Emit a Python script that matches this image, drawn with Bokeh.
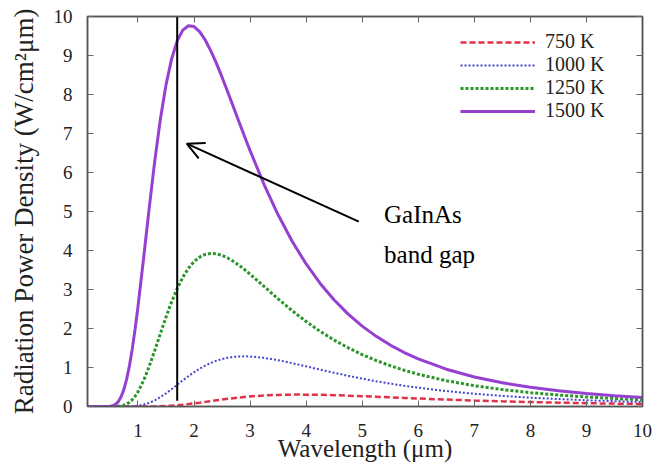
from bokeh.plotting import figure
from bokeh.models import (Range1d, LinearAxis, FixedTicker, Arrow, OpenHead, Legend, LegendItem,
                          ColumnDataSource, CustomJSTickFormatter)
from bokeh.core.properties import value
from bokeh.embed import file_html
from bokeh.resources import INLINE

# ---- data ----
wavelength = [0.1, 0.3, 0.5, 0.55, 0.6, 0.65, 0.7, 0.75, 0.8, 0.85, 0.9, 0.95, 1.0, 1.1, 1.2,
              1.3, 1.4, 1.5, 1.6, 1.7, 1.8, 1.9, 2.0, 2.1, 2.2, 2.3, 2.4, 2.5, 2.6, 2.7, 2.8,
              2.9, 3.0, 3.25, 3.5, 3.75, 4.0, 4.25, 4.5, 4.75, 5.0, 5.25, 5.5, 5.75, 6.0, 6.5,
              7.0, 7.5, 8.0, 8.5, 9.0, 9.5, 10.0]
t750 = [0, 0, 0, 0, 0, 0, 0, 0, 0, 0, 0, 0.0001, 0.0002, 0.0006, 0.0017, 0.0039, 0.0078,
        0.0137, 0.0222, 0.0331, 0.0466, 0.0623, 0.0798, 0.0988, 0.1186, 0.1387, 0.1588,
        0.1782, 0.1968, 0.2142, 0.2303, 0.2448, 0.2576, 0.2827, 0.2980, 0.3047, 0.3044,
        0.2989, 0.2896, 0.2775, 0.2639, 0.2493, 0.2344, 0.2195, 0.2051, 0.1778, 0.1536,
        0.1324, 0.1142, 0.0986, 0.0853, 0.0740, 0.0644]
t1000 = [0, 0, 0, 0, 0.00002, 0.0001, 0.0003, 0.0007, 0.0018, 0.0038, 0.0072, 0.0128,
         0.0211, 0.0485, 0.0933, 0.1573, 0.2394, 0.3364, 0.4438, 0.5562, 0.669, 0.7777,
         0.8789, 0.9704, 1.0503, 1.118, 1.1736, 1.2171, 1.2492, 1.2707, 1.2829, 1.2866,
         1.2829, 1.2482, 1.1874, 1.1119, 1.0296, 0.9459, 0.8641, 0.7863, 0.7139, 0.6472,
         0.5863, 0.531, 0.4812, 0.3958, 0.3269, 0.2714, 0.2265, 0.1902, 0.1606, 0.1363, 0.1164]
t1250 = [0, 0, 0.0001, 0.0006, 0.0022, 0.0066, 0.0161, 0.0341, 0.0644, 0.1109, 0.1767,
         0.2646, 0.3753, 0.6633, 1.0268, 1.4388, 1.8704, 2.292, 2.682, 3.026, 3.314, 3.543,
         3.714, 3.832, 3.900, 3.926, 3.915, 3.874, 3.809, 3.724, 3.624, 3.513, 3.393, 3.078,
         2.760, 2.458, 2.179, 1.927, 1.703, 1.505, 1.331, 1.179, 1.046, 0.930, 0.828, 0.661,
         0.533, 0.433, 0.355, 0.294, 0.244, 0.205, 0.173]
t1500 = [0, 0, 0.006, 0.0198, 0.055, 0.1258, 0.249, 0.4397, 0.709, 1.0592, 1.490, 1.9925,
         2.555, 3.795, 5.080, 6.297, 7.369, 8.245, 8.912, 9.375, 9.650, 9.764, 9.742, 9.613,
         9.398, 9.120, 8.797, 8.444, 8.072, 7.692, 7.310, 6.931, 6.562, 5.691, 4.915, 4.237,
         3.654, 3.155, 2.730, 2.368, 2.061, 1.799, 1.575, 1.384, 1.219, 0.956, 0.758, 0.608,
         0.493, 0.403, 0.333, 0.277, 0.233]
series_labels = ["750 K", "1000 K", "1250 K", "1500 K"]
x_ticks = [1, 2, 3, 4, 5, 6, 7, 8, 9, 10]
y_ticks = [0, 1, 2, 3, 4, 5, 6, 7, 8, 9, 10]

bandgap_x = [1.7]
bandgap_y0 = [0.15]
bandgap_y1 = [10]
arrow_start = (4.94, 4.74)
arrow_end = (1.87, 6.74)
note_x = [5.39, 5.39]
note_y = [4.92, 3.90]
note_text = ["GaInAs", "band gap"]

SERIF = "'Liberation Serif'"

p = figure(width=656, height=469, output_backend="svg", toolbar_location=None,
           x_range=Range1d(0.1, 10), y_range=Range1d(0, 10),
           min_border_left=87, min_border_right=14, min_border_top=16, min_border_bottom=63)
p.xgrid.visible = False
p.ygrid.visible = False
p.outline_line_color = "#555555"
p.outline_line_width = 1.5
p.background_fill_color = "white"

def style_axis(ax, ticks, labels=True):
    ax.ticker = FixedTicker(ticks=ticks)
    ax.major_tick_in = 6
    ax.major_tick_out = 0
    ax.minor_tick_line_color = None
    ax.major_tick_line_color = "#666666"
    ax.axis_line_color = "#555555"
    ax.axis_line_width = 1.5
    if labels:
        ax.major_label_text_font = SERIF
        ax.major_label_text_font_size = "19px"
        ax.major_label_text_color = "#222222"
        ax.axis_label_text_font = SERIF
        ax.axis_label_text_font_style = "normal"
        ax.axis_label_text_color = "#222222"
    else:
        ax.formatter = CustomJSTickFormatter(code="return ''")
        ax.major_label_standoff = 0

style_axis(p.xaxis[0], x_ticks)
style_axis(p.yaxis[0], y_ticks)
p.xaxis[0].axis_label = "Wavelength (μm)"
p.yaxis[0].axis_label = "Radiation Power Density (W/cm²μm)"
p.xaxis[0].axis_label_text_font_size = "25px"
p.yaxis[0].axis_label_text_font_size = "27px"
p.xaxis[0].major_label_standoff = 17
p.xaxis[0].axis_label_standoff = -5
p.yaxis[0].major_label_standoff = 15
p.yaxis[0].axis_label_standoff = 12

top_ax = LinearAxis()
style_axis(top_ax, x_ticks, labels=False)
p.add_layout(top_ax, "above")
right_ax = LinearAxis()
style_axis(right_ax, y_ticks, labels=False)
p.add_layout(right_ax, "right")

src = ColumnDataSource(dict(x=wavelength, a=t750, b=t1000, c=t1250, d=t1500))
r750 = p.line("x", "a", source=src, line_color="#e0304a", line_width=2.5, line_dash="6 3")
r1000 = p.line("x", "b", source=src, line_color="#4444cc", line_width=2, line_dash="2 2")
r1250 = p.line("x", "c", source=src, line_color="#2a962a", line_width=3, line_dash="3 2")
r1500 = p.line("x", "d", source=src, line_color="#9540d0", line_width=3)

p.segment(x0=bandgap_x, y0=bandgap_y0, x1=bandgap_x, y1=bandgap_y1, line_color="black", line_width=2)
p.add_layout(Arrow(end=OpenHead(size=17, line_width=2, line_color="black"),
                   x_start=arrow_start[0], y_start=arrow_start[1],
                   x_end=arrow_end[0], y_end=arrow_end[1], line_width=2, line_color="black"))
p.text(x=note_x, y=note_y, text=note_text, text_font=value(SERIF), text_font_size="25px",
       text_baseline="middle", text_align="left", text_color="black")

legend = Legend(items=[LegendItem(label=series_labels[0], renderers=[r750]),
                       LegendItem(label=series_labels[1], renderers=[r1000]),
                       LegendItem(label=series_labels[2], renderers=[r1250]),
                       LegendItem(label=series_labels[3], renderers=[r1500])],
                location=(373, 284))
legend.margin = 0
legend.padding = 5
legend.spacing = 0
legend.glyph_width = 75
legend.glyph_height = 18
legend.label_height = 18
legend.label_standoff = 10
legend.label_text_font = SERIF
legend.label_text_font_size = "20px"
legend.label_text_line_height = 0.95
legend.label_text_color = "#222222"
legend.border_line_color = None
legend.background_fill_alpha = 0
p.add_layout(legend)

open("out.html", "w").write(file_html(p, INLINE))
